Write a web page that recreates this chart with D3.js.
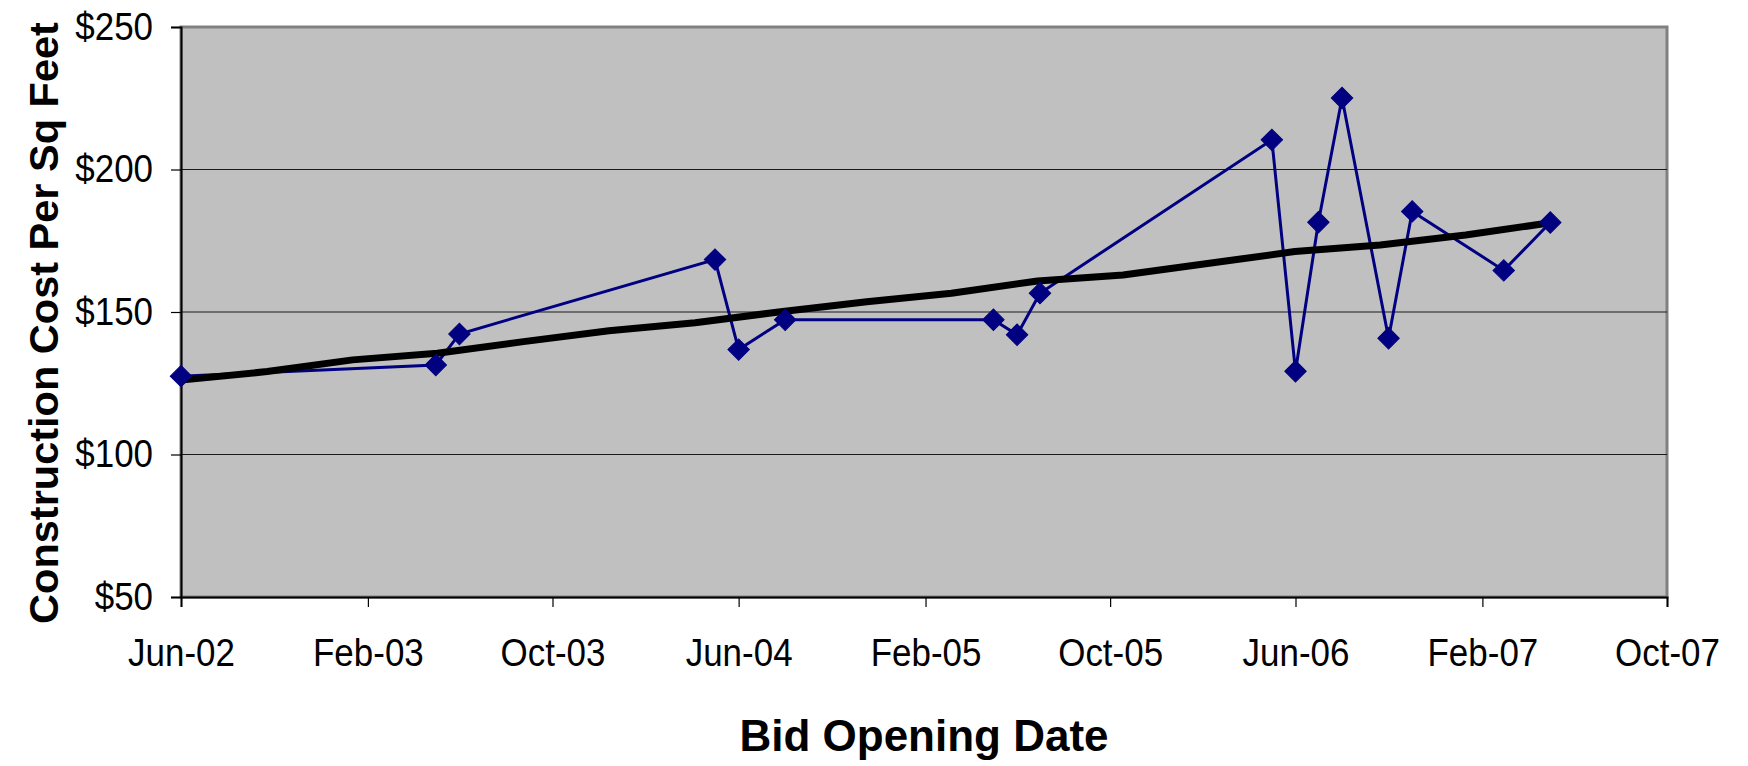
<!DOCTYPE html>
<html>

<head>
    <meta charset="utf-8">
    <style>
        body {
            margin: 0;
            background-color: white;
        }

        .chart-container {
            width: 1748px;
            height: 766px;
            font-family: 'Liberation Sans', Arial, sans-serif;
        }

        svg {
            overflow: visible;
        }
    </style>
</head>

<body>
    <div class="chart-container">
        <svg width="1748" height="766"></svg>
    </div>
</body>

<script src="https://d3js.org/d3.v7.min.js"></script>

<script>
    // bid projects: opening date and cost per sq ft
    let bidDates = ["2002-06-01", "2003-05-01", "2003-06-01", "2004-05-01", "2004-06-01", "2004-08-01",
        "2005-05-01", "2005-06-01", "2005-07-01", "2006-05-01", "2006-06-01", "2006-07-01",
        "2006-08-01", "2006-10-01", "2006-11-01", "2007-03-01", "2007-05-01"]
    let bidCosts = [127.5, 131.4, 142.3, 168.4, 136.8, 147.3, 147.3, 142.0, 156.6, 210.4, 129.2, 181.5,
        225.1, 140.8, 185.3, 164.6, 181.4]

    // black trend line
    let trendDates = ["2002-06-01", "2002-09-22", "2003-01-12", "2003-05-03", "2003-08-24", "2003-12-14",
        "2004-04-05", "2004-07-26", "2004-11-16", "2005-03-07", "2005-06-28", "2005-10-18",
        "2006-02-08", "2006-05-31", "2006-09-20", "2007-01-10", "2007-05-01"]
    let trendCosts = [126.1, 129.1, 133.2, 135.5, 139.6, 143.4, 146.2, 150.1, 153.6, 156.6, 160.9, 163.0,
        167.1, 171.2, 173.5, 177.0, 181.3]

    let xTickLabels = ["Jun-02", "Feb-03", "Oct-03", "Jun-04", "Feb-05", "Oct-05", "Jun-06", "Feb-07", "Oct-07"]
    let yTicks = [50, 100, 150, 200, 250]

    let parse = d3.timeParse("%Y-%m-%d")
    let parseTick = d3.timeParse("%b-%y")

    let margin = { top: 27, right: 81, bottom: 169, left: 181 }
    let width = 1748 - margin.left - margin.right
    let height = 766 - margin.top - margin.bottom

    let svg = d3.select("svg")
    let g = svg.append("g").attr("transform", `translate(${margin.left},${margin.top})`)

    let tickDates = xTickLabels.map(parseTick)

    let x = d3.scaleTime()
        .domain([tickDates[0], tickDates[tickDates.length - 1]])
        .range([0, width])

    let y = d3.scaleLinear()
        .domain([50, 250])
        .range([height, 0])

    // plot area
    g.append("rect")
        .attr("width", width)
        .attr("height", height)
        .style("fill", "#c0c0c0")
        .style("stroke", "#808080")
        .style("stroke-width", 3)

    // gridlines
    g.selectAll(".grid")
        .data(yTicks.slice(1, -1))
        .join("line")
        .attr("class", "grid")
        .attr("x1", 0)
        .attr("x2", width)
        .attr("y1", d => y(d))
        .attr("y2", d => y(d))
        .style("stroke", "#1a1a1a")
        .style("stroke-width", 1.2)

    let yAxis = g.append("g")
        .call(d3.axisLeft(y)
            .tickValues(yTicks)
            .tickFormat(d => "$" + d)
            .tickSize(10)
            .tickPadding(16))

    let xAxis = g.append("g")
        .attr("transform", `translate(0,${height})`)
        .call(d3.axisBottom(x)
            .tickValues(tickDates)
            .tickFormat((d, i) => xTickLabels[i])
            .tickSize(10)
            .tickPadding(32))

    svg.selectAll(".domain")
        .style("stroke", "#000")
        .style("stroke-width", 2)
    svg.selectAll(".tick line")
        .style("stroke", "#000")
        .style("stroke-width", 1.2)
    // excel text looks a bit condensed
    svg.selectAll(".tick text")
        .style("font-family", "'Liberation Sans', Arial, sans-serif")
        .style("font-size", "38px")
        .style("fill", "#000")
        .attr("transform", "scale(0.92,1)")
    yAxis.selectAll(".tick text").attr("x", -28 / 0.92)

    // trend line
    let trend = trendDates.map((d, i) => ({ date: parse(d), value: trendCosts[i] }))
    let bids = bidDates.map((d, i) => ({ date: parse(d), value: bidCosts[i] }))

    let line = d3.line()
        .x(d => x(d.date))
        .y(d => y(d.value))

    g.append("path")
        .datum(bids)
        .attr("d", line)
        .style("fill", "none")
        .style("stroke", "#000080")
        .style("stroke-width", 3)

    g.append("path")
        .datum(trend)
        .attr("d", line)
        .style("fill", "none")
        .style("stroke", "#000")
        .style("stroke-width", 7)
        .style("stroke-linejoin", "round")

    // diamond markers (rotated squares like excel)
    g.selectAll(".marker")
        .data(bids)
        .join("path")
        .attr("class", "marker")
        .attr("d", d3.symbol().type(d3.symbolSquare).size(230))
        .attr("transform", d => `translate(${x(d.date)},${y(d.value)}) rotate(45)`)
        .style("fill", "#000080")
        .style("stroke", "#000080")
        .style("stroke-width", 1)

    // axis titles
    svg.append("text")
        .attr("x", 924)
        .attr("y", 751)
        .attr("text-anchor", "middle")
        .style("font-family", "'Liberation Sans', Arial, sans-serif")
        .style("font-weight", "bold")
        .style("font-size", "44px")
        .text("Bid Opening Date")

    svg.append("text")
        .attr("transform", "translate(58,323) rotate(-90)")
        .attr("text-anchor", "middle")
        .style("font-family", "'Liberation Sans', Arial, sans-serif")
        .style("font-weight", "bold")
        .style("font-size", "41.5px")
        .text("Construction Cost Per Sq Feet")
</script>

</html>
